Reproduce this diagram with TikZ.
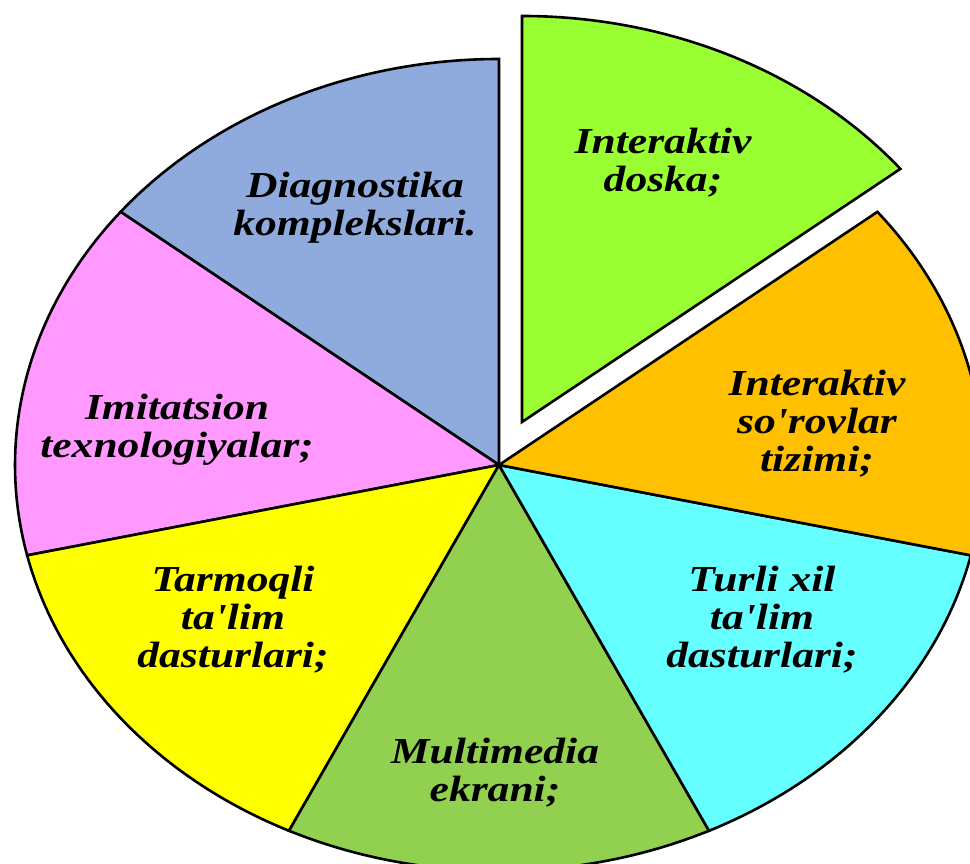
\documentclass[tikz,border=0pt]{standalone}
\usepackage{fontspec}
\usepackage{graphicx}
\setmainfont{Liberation Serif}[Ligatures=TeXOff]
\definecolor{pieLime}{RGB}{153,255,51}
\definecolor{pieOrange}{RGB}{255,192,0}
\definecolor{pieCyan}{RGB}{102,255,255}
\definecolor{pieGreen}{RGB}{146,208,80}
\definecolor{pieYellow}{RGB}{255,255,0}
\definecolor{piePink}{RGB}{255,153,255}
\definecolor{pieBlue}{RGB}{143,170,220}
% label text: bold italic, stretched horizontally like the chart
\newcommand{\slicetext}[1]{\scalebox{1.19}[1]{\fontsize{36.6}{38}\selectfont\bfseries\itshape
  \begin{tabular}{@{}c@{}}#1\end{tabular}}}
\tikzset{
  slice/.style={draw=black, line width=2.6pt, line join=miter},
  slicelabel/.style={inner sep=0pt, text=black}
}
% one pie wedge: centre, start angle, end angle, fill colour
\newcommand{\piewedge}[4]{%
  \filldraw[slice, fill=#4] (#1) -- ++(#2:484 and 406)
    arc[start angle=#2, end angle=#3, x radius=484, y radius=406] -- cycle;}
\begin{document}
\begin{tikzpicture}[x=1pt, y=1pt]
  \useasboundingbox (0,0) rectangle (970,863);
  \clip (0,0) rectangle (970,863);
  \coordinate (C) at (499,398);
  \coordinate (E) at (522,441);
  \piewedge{C}{90}{141.4286}{pieBlue}
  \piewedge{C}{141.4286}{192.8571}{piePink}
  \piewedge{C}{192.8571}{244.2857}{pieYellow}
  \piewedge{C}{244.2857}{295.7143}{pieGreen}
  \piewedge{C}{295.7143}{347.1429}{pieCyan}
  \piewedge{C}{347.1429}{398.5714}{pieOrange}
  \piewedge{E}{38.5714}{90}{pieLime}

  \node[slicelabel] (doska) at (663,698) {\slicetext{Interaktiv\\doska;}};
  \node[slicelabel] (diag) at (355,654) {\slicetext{Diagnostika\\komplekslari.}};
  \node[slicelabel] (imit) at (177,432) {\slicetext{Imitatsion\\texnologiyalar;}};
  \node[slicelabel] (sorov) at (817,437) {\slicetext{Interaktiv\\so'rovlar\\tizimi;}};
  \node[slicelabel] (turli) at (762,241) {\slicetext{Turli xil\\ta'lim\\dasturlari;}};
  \node[slicelabel] (tarmoq) at (233,241) {\slicetext{Tarmoqli\\ta'lim\\dasturlari;}};
  \node[slicelabel] (multi) at (495,88) {\slicetext{Multimedia\\ekrani;}};
\end{tikzpicture}
\end{document}
